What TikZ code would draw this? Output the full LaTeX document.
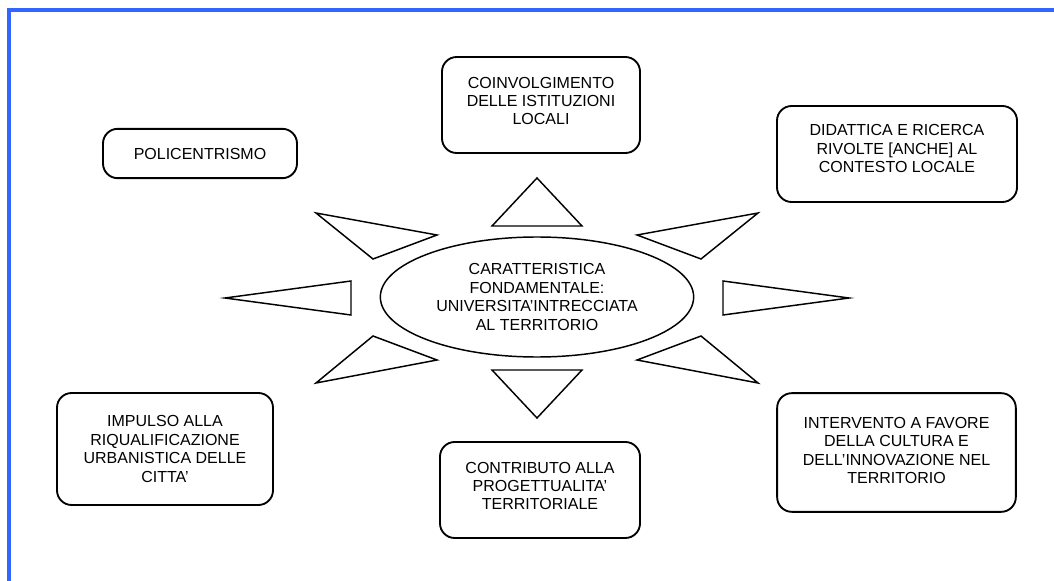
\documentclass[tikz,border=0pt]{standalone}
\usepackage{fontspec}
\setmainfont{Liberation Sans}
\usepackage{tikz}
\definecolor{frameblue}{RGB}{51,102,255}
\tikzset{x=0.75pt, y=-0.75pt,
topic/.style={ % Sets the properties for each outer box
draw, line width=1.4pt,
rounded corners=11pt,
inner sep=0pt,
align=center,
font=\fontsize{12}{13.8}\selectfont},
core/.style={ % Central ellipse
draw, ellipse, line width=1.1pt,
inner sep=0pt,
align=center,
font=\fontsize{12}{13.8}\selectfont},
ray/.style={ % Triangles round the ellipse
draw, line width=1.1pt, line join=miter}}
\usetikzlibrary{shapes.geometric}

\begin{document}
\begin{tikzpicture}
\useasboundingbox (0,0) rectangle (1054,581);
% blue frame, open at right and bottom
\draw[frameblue, line width=3pt] (9,581) -- (9,10) -- (1054,10);

\node[core, minimum width=235pt, minimum height=90pt] (centre) at (537,297)
  {CARATTERISTICA\\FONDAMENTALE:\\UNIVERSITA’INTRECCIATA\\AL TERRITORIO};

\node[topic, minimum width=148.5pt, minimum height=72pt, text depth=6pt] (coinv) at (541,105)
  {COINVOLGIMENTO\\DELLE ISTITUZIONI\\LOCALI};
\node[topic, minimum width=145.5pt, minimum height=37pt] (polic) at (200,153.5)
  {POLICENTRISMO};
\node[topic, minimum width=180pt, minimum height=72pt, text depth=8pt] (didatt) at (897,154)
  {DIDATTICA E RICERCA\\RIVOLTE [ANCHE] AL\\CONTESTO LOCALE};
\node[topic, minimum width=162pt, minimum height=84pt] (impulso) at (165,449)
  {IMPULSO ALLA\\RIQUALIFICAZIONE\\URBANISTICA DELLE\\CITTA’};
\node[topic, minimum width=150pt, minimum height=72pt, text depth=6pt] (contrib) at (540,490)
  {CONTRIBUTO ALLA\\PROGETTUALITA’\\TERRITORIALE};
\node[topic, minimum width=179pt, minimum height=89pt, text depth=3pt] (interv) at (896.5,452.5)
  {INTERVENTO A FAVORE\\DELLA CULTURA E\\DELL’INNOVAZIONE NEL\\TERRITORIO};

% rays
\draw[ray] (537,178) -- (582,226) -- (492,226) -- cycle;
\draw[ray] (537,418) -- (582,370) -- (492,370) -- cycle;
\draw[ray] (316,213) -- (437,235) -- (373,259) -- cycle;
\draw[ray] (316,383) -- (437,360) -- (373,336) -- cycle;
\draw[ray] (758,213) -- (637,235) -- (701,259) -- cycle;
\draw[ray] (758,383) -- (637,360) -- (701,336) -- cycle;
\draw[ray] (225,298) -- (351,281) -- (351,315) -- cycle;
\draw[ray] (849,298) -- (723,281) -- (723,315) -- cycle;
\end{tikzpicture}
\end{document}
